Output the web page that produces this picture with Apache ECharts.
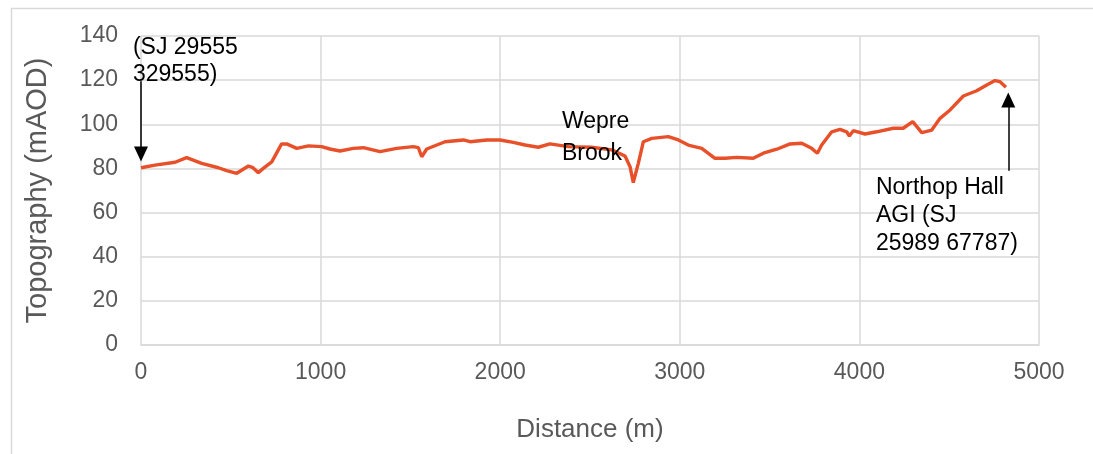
<!DOCTYPE html>
<html>
<head>
<meta charset="utf-8">
<script src="https://cdn.jsdelivr.net/npm/echarts@6/dist/echarts.min.js"></script>
<style>
html,body{margin:0;padding:0;background:#fff;}
#c{width:1093px;height:454px;}
</style>
</head>
<body>
<div id="c"></div>
<script>
// Distance along route (m)
var distance = [0, 78, 190, 254, 338, 431, 477, 533, 598, 620, 653, 681, 728, 783, 811, 867, 932, 1006, 1052, 1108, 1182, 1238, 1331, 1424, 1516, 1544, 1563, 1591, 1693, 1795, 1832, 1925, 1999, 2073, 2138, 2212, 2277, 2379, 2509, 2621, 2695, 2723, 2741, 2769, 2797, 2844, 2936, 2992, 3047, 3122, 3196, 3252, 3317, 3409, 3465, 3540, 3614, 3679, 3734, 3766, 3790, 3846, 3892, 3929, 3944, 3966, 4031, 4096, 4189, 4244, 4297, 4347, 4403, 4449, 4505, 4579, 4653, 4709, 4755, 4783, 4816];
// Topography (mAOD)
var topography = [80.3, 81.5, 82.8, 84.9, 82.3, 80.3, 79, 77.8, 81.1, 80.5, 78.1, 80, 83, 91.1, 91.1, 89.1, 90.2, 89.9, 88.8, 87.9, 89.1, 89.4, 87.6, 89.1, 89.9, 89.4, 85.3, 88.8, 92.1, 92.9, 92.1, 92.9, 92.9, 91.8, 90.6, 89.6, 91.1, 89.9, 89.6, 88.4, 85.6, 80.8, 73.6, 82.3, 92.1, 93.6, 94.4, 92.9, 90.6, 89.1, 84.6, 84.6, 85, 84.6, 86.9, 88.7, 91.1, 91.4, 89.1, 86.9, 90.6, 96.6, 97.7, 96.6, 94.7, 97.1, 95.6, 96.6, 98.2, 98.2, 101.2, 96.2, 97.4, 102.7, 106.5, 112.8, 115.2, 117.8, 119.8, 119.3, 116.8];
var xTicks = [0, 1000, 2000, 3000, 4000, 5000];
var yTicks = [0, 20, 40, 60, 80, 100, 120, 140];

// Annotations: text and anchor in data coordinates
var annotations = [
  { text: '(SJ 29555\n329555)', at: [-45, 141], lineHeight: 27 },
  { text: 'Wepre\nBrook', at: [2344, 108.5], lineHeight: 32 },
  { text: 'Northop Hall\nAGI (SJ\n25989 67787)', at: [4092, 77.5], lineHeight: 28 }
];
// Arrows: [from, to] in data coordinates
var arrows = [
  [[0, 119.5], [0, 86.5]],
  [[4829, 79], [4829, 111]]
];

var pts = distance.map(function (d, i) { return [d, topography[i]]; });

var chart = echarts.init(document.getElementById('c'), null, { renderer: 'canvas' });
var font = '"Liberation Sans", Arial, sans-serif';
var option = {
  animation: false,
  grid: { left: 141, right: 54, top: 36, bottom: 109 },
  xAxis: {
    type: 'value', min: xTicks[0], max: xTicks[xTicks.length - 1], interval: 1000,
    name: 'Distance (m)', nameLocation: 'middle', nameGap: 72,
    nameTextStyle: { fontFamily: font, fontSize: 26, color: '#595959' },
    axisLine: { show: true, lineStyle: { color: '#d9d9d9', width: 1.5 } },
    axisTick: { show: false },
    axisLabel: { fontFamily: font, fontSize: 23, color: '#595959', margin: 16,
                 formatter: function (v) { return String(v); } },
    splitLine: { show: true, lineStyle: { color: '#d9d9d9', width: 1.5 } }
  },
  yAxis: {
    type: 'value', min: yTicks[0], max: yTicks[yTicks.length - 1], interval: 20,
    name: 'Topography (mAOD)', nameLocation: 'middle', nameGap: 89,
    nameTextStyle: { fontFamily: font, fontSize: 29, color: '#595959' },
    axisLine: { show: false },
    axisTick: { show: false },
    axisLabel: { fontFamily: font, fontSize: 23, color: '#595959', margin: 23,
                 formatter: function (v) { return String(v); } },
    splitLine: { show: true, lineStyle: { color: '#d9d9d9', width: 1.5 } }
  },
  series: [{
    type: 'line',
    data: pts,
    showSymbol: false,
    symbol: 'none',
    smooth: false,
    lineStyle: { color: '#E8502A', width: 3.4 },
    markLine: {
      silent: true,
      symbol: ['none', 'triangle'],
      symbolSize: [14, 15],
      label: { show: false },
      lineStyle: { color: '#000', width: 1.5, type: 'solid' },
      data: arrows.map(function (a) { return [{ coord: a[0] }, { coord: a[1] }]; })
    }
  }]
};
chart.setOption(option);

var graphics = [{
  type: 'rect', left: 9, top: 6, silent: true,
  shape: { x: 0, y: 0, width: 1200, height: 600 },
  style: { fill: 'none', stroke: '#d9d9d9', lineWidth: 1.5 }, z: -10
}];
annotations.forEach(function (a) {
  var p = chart.convertToPixel({ gridIndex: 0 }, a.at);
  graphics.push({
    type: 'text', x: p[0], y: p[1], silent: true, z: 50,
    style: { text: a.text, font: '23px ' + font, fill: '#000', lineHeight: a.lineHeight,
             textAlign: 'left', textVerticalAlign: 'top' }
  });
});
chart.setOption({ graphic: graphics });
</script>
</body>
</html>
